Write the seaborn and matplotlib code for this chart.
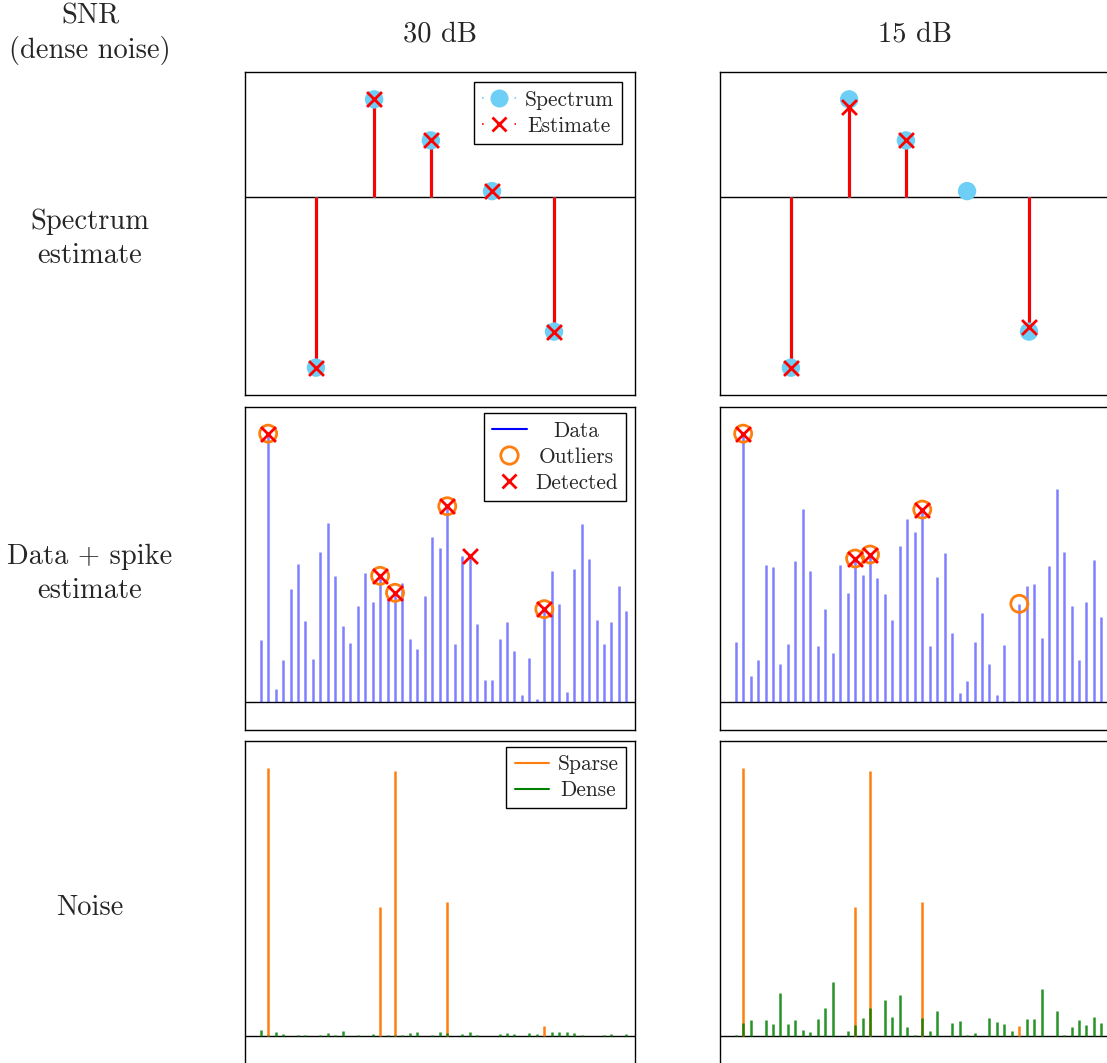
import numpy as np
import matplotlib
matplotlib.use("Agg")
import matplotlib.pyplot as plt
import seaborn as sns
from matplotlib.lines import Line2D

# ---------------- data ----------------
snr_titles = ["30 dB", "15 dB"]
row_labels = ["Spectrum\nestimate", "Data + spike\nestimate", "Noise"]
corner_label = "SNR\n(dense noise)"

spec_freq = [8.4, 16.2, 23.8, 32.0, 40.3]
spectrum = [-5.10, 2.94, 1.71, 0.19, -4.02]
estimate_30 = [-5.10, 2.94, 1.71, 0.19, -4.02]
estimate_15 = [-5.10, 2.71, 1.71, np.nan, -3.89]

sample_idx = list(range(1, 51))
data_30 = [1.85, 8.06, 0.39, 1.25, 3.39, 4.16, 2.43, 1.29, 4.51, 5.39,
           3.78, 2.27, 1.77, 2.89, 3.88, 3.01, 3.79, 3.11, 3.28, 3.57,
           1.89, 1.60, 3.18, 4.95, 4.63, 5.88, 1.73, 4.38, 4.40, 2.33,
           0.65, 0.65, 1.89, 2.39, 1.53, 0.21, 1.33, 0.08, 2.79, 3.93,
           2.95, 0.29, 3.98, 5.34, 4.30, 2.45, 1.74, 2.39, 3.47, 2.74]
data_15 = [1.79, 8.06, 0.78, 1.25, 4.11, 4.07, 1.15, 1.75, 4.23, 5.79,
           3.93, 1.68, 2.79, 1.46, 4.11, 3.28, 4.31, 3.80, 4.43, 3.73,
           3.24, 2.46, 4.68, 5.50, 5.10, 5.78, 1.68, 3.75, 4.49, 2.07,
           0.26, 0.63, 1.80, 2.66, 1.15, 0.21, 1.71, 0.02, 2.95, 3.48,
           3.53, 1.92, 4.09, 6.39, 4.50, 2.88, 1.25, 3.00, 4.26, 2.55]
outlier_idx = [2, 17, 19, 26, 39]
detected_30 = [2, 17, 19, 26, 29, 39]
detected_15 = [2, 17, 19, 26]

sparse_noise = [0.0] * 50
for k, v in zip([2, 17, 19, 26, 39], [8.04, 3.87, 7.95, 4.03, 0.31]):
    sparse_noise[k - 1] = v
dense_30 = [0.19, 0.03, 0.13, 0.06, 0.01, 0.04, 0.05, 0.02, 0.03, 0.10,
            0.05, 0.15, 0.02, 0.04, 0.02, 0.07, 0.02, 0.04, 0.03, 0.04,
            0.11, 0.13, 0.02, 0.04, 0.13, 0.11, 0.01, 0.06, 0.12, 0.03,
            0.01, 0.01, 0.07, 0.10, 0.07, 0.02, 0.11, 0.08, 0.00, 0.13,
            0.13, 0.13, 0.10, 0.05, 0.02, 0.02, 0.05, 0.08, 0.02, 0.07]
dense_15 = [0.04, 0.39, 0.49, 0.01, 0.48, 0.38, 1.31, 0.36, 0.49, 0.19,
            0.14, 0.51, 0.86, 1.61, 0.01, 0.16, 0.33, 0.54, 0.86, 0.01,
            1.08, 0.59, 1.24, 0.29, 0.04, 0.56, 0.16, 0.77, 0.01, 0.41,
            0.45, 0.05, 0.11, 0.01, 0.55, 0.44, 0.38, 0.17, 0.00, 0.52,
            0.52, 1.42, 0.01, 0.76, 0.05, 0.27, 0.50, 0.35, 0.57, 0.41]

columns = [
    dict(est=estimate_30, data=data_30, det=detected_30, dense=dense_30),
    dict(est=estimate_15, data=data_15, det=detected_15, dense=dense_15),
]

# ---------------- style ----------------
sns.set_theme(style="white")
plt.rcParams["font.family"] = ["cmr10", "DejaVu Serif"]
plt.rcParams["axes.formatter.use_mathtext"] = True
plt.rcParams["axes.unicode_minus"] = False

SKY = "#6dcff6"
ORANGE = "#ff7f0e"
RED = "#ff0000"
GREEN = "#008000"
TITLE_FS = 20.5
LEG_FS = 15.4

W, H = 1107, 1063
fig = plt.figure(figsize=(W / 100, H / 100), dpi=100)

col_left = [245, 720]
ax_w = 390
row_top = [72, 407, 741]
ax_h = 323


def fpos(xl, yt):
    return [xl / W, 1 - (yt + ax_h) / H, ax_w / W, ax_h / H]


leg_kw = dict(loc="upper right", fontsize=LEG_FS, frameon=True, fancybox=False,
              framealpha=1, edgecolor="black", borderpad=0.38, labelspacing=0.3,
              handlelength=1.6, handletextpad=0.4,
              bbox_to_anchor=(1.0, 1.0 + 3.0 / ax_h))
legends = []

for c, col in enumerate(columns):
    axes = [fig.add_axes(fpos(col_left[c], row_top[r])) for r in range(3)]
    for ax in axes:
        ax.set_xticks([])
        ax.set_yticks([])
        for s in ax.spines.values():
            s.set_color("black")
            s.set_linewidth(1.0)
            s.set_visible(True)
        ax.axhline(0, color="black", lw=1.0, zorder=1)

    # --- row 1: spectrum estimate ---
    ax = axes[0]
    est = np.array(col["est"], dtype=float)
    ok = ~np.isnan(est)
    ax.vlines(spec_freq, 0, spectrum, color=SKY, lw=2.4, zorder=2)
    ax.vlines(np.array(spec_freq)[ok], 0, est[ok], color=RED, lw=2.2, zorder=3)
    sns.scatterplot(x=spec_freq, y=spectrum, ax=ax, color=SKY, s=175,
                    edgecolor="none", zorder=4, legend=False)
    sns.scatterplot(x=np.array(spec_freq)[ok], y=est[ok], ax=ax, color=RED,
                    marker="x", s=115, linewidth=2.0, zorder=5, legend=False)
    ax.set_xlim(-1.1, 51.15)
    ax.set_ylim(-5.92, 3.76)
    if c == 0:
        h = [Line2D([], [], color=SKY, marker="o", markersize=13, mec="none",
                    linestyle=(0, (1, 18.5)), lw=1.2),
             Line2D([], [], color=RED, marker="x", markersize=10.5, mew=2.0,
                    linestyle=(0, (1, 18.5)), lw=1.2)]
        leg = ax.legend(handles=h, labels=["Spectrum", "Estimate"],
                        borderaxespad=0.62, **leg_kw)
        leg.get_frame().set_linewidth(1.0)
        legends.append(leg)

    # --- row 2: data + spike estimate ---
    ax = axes[1]
    d = np.array(col["data"])
    ax.vlines(sample_idx, 0, d, color="blue", alpha=0.5, lw=1.8, zorder=2)
    oi = np.array(outlier_idx)
    sns.scatterplot(x=oi, y=d[oi - 1], ax=ax, color=ORANGE, s=150,
                    zorder=4, legend=False)
    coll = ax.collections[-1]
    coll.set_facecolor("none")
    coll.set_edgecolor(ORANGE)
    coll.set_linewidth(2.0)
    di = np.array(col["det"])
    sns.scatterplot(x=di, y=d[di - 1], ax=ax, color=RED, marker="x", s=115,
                    linewidth=2.0, zorder=5, legend=False)
    ax.set_xlim(-1.1, 51.15)
    ax.set_ylim(-0.84, 8.86)
    if c == 0:
        h = [Line2D([], [], color="blue", lw=1.5),
             Line2D([], [], color=ORANGE, marker="o", markersize=12.5,
                    mfc="none", mew=2.0, linestyle="none"),
             Line2D([], [], color=RED, marker="x", markersize=10.5, mew=2.0,
                    linestyle="none")]
        leg = ax.legend(handles=h, labels=["Data", "Outliers", "Detected"],
                        borderaxespad=0.42, **leg_kw)
        leg.get_frame().set_linewidth(1.0)
        legends.append(leg)

    # --- row 3: noise ---
    ax = axes[2]
    ax.vlines(sample_idx, 0, sparse_noise, color=ORANGE, lw=1.8, zorder=2)
    ax.vlines(sample_idx, 0, col["dense"], color=GREEN, lw=1.8, alpha=0.85,
              zorder=3)
    ax.set_xlim(-1.1, 51.15)
    ax.set_ylim(-0.83, 8.84)
    if c == 0:
        h = [Line2D([], [], color=ORANGE, lw=1.5),
             Line2D([], [], color=GREEN, lw=1.5)]
        leg = ax.legend(handles=h, labels=["Sparse", "Dense"],
                        borderaxespad=0.4, **leg_kw)
        leg.get_frame().set_linewidth(1.0)
        legends.append(leg)

    # column title
    fig.text((col_left[c] + ax_w / 2) / W, 1 - 42 / H, snr_titles[c],
             ha="center", va="baseline", fontsize=TITLE_FS)

# corner and row labels
fig.text(90 / W, 1 - 34 / H, corner_label, ha="center", va="center",
         fontsize=TITLE_FS, multialignment="center", linespacing=1.32)
for r in range(3):
    yc = row_top[r] + ax_h / 2 + 5
    fig.text(90 / W, 1 - yc / H, row_labels[r], ha="center", va="center",
             fontsize=TITLE_FS, multialignment="center", linespacing=1.38)

# center the legend labels within their column (as in the reference)
fig.canvas.draw()
renderer = fig.canvas.get_renderer()
for leg in legends:
    texts = leg.get_texts()
    widths = [t.get_window_extent(renderer).width for t in texts]
    wmax = max(widths)
    for t, w in zip(texts, widths):
        t.set_x((wmax - w) / 2)

fig.savefig("out.png", dpi=100)
